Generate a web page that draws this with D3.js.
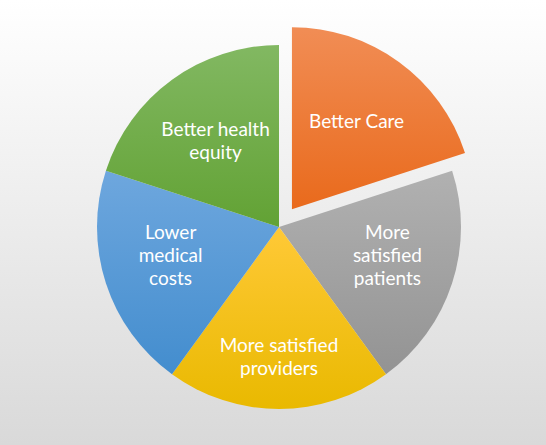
<!DOCTYPE html>
<html>
<head>
<meta charset="utf-8">
<script src="https://cdn.jsdelivr.net/npm/d3@7"></script>
<style>
  html, body { margin: 0; padding: 0; }
  body { width: 546px; height: 445px; overflow: hidden; }
</style>
</head>
<body>
<svg id="chart" width="546" height="445"></svg>
<script>
// Slices, clockwise from 12 o'clock
const categories = ['Better Care', 'More satisfied patients', 'More satisfied providers', 'Lower medical costs', 'Better health equity'];
const values = [1, 1, 1, 1, 1];
const labelLines = [
    ['Better Care'],
    ['More', 'satisfied', 'patients'],
    ['More satisfied', 'providers'],
    ['Lower', 'medical', 'costs'],
    ['Better health', 'equity']
];
const colorsTop = ['#f18d55', '#b1b1b1', '#ffc937', '#6ea7de', '#82b862'];
const colorsBottom = ['#e96a1c', '#939393', '#e9b900', '#438dce', '#62a234'];
const exploded = ['Better Care'];

const width = 546, height = 445;
const cx = 279, cy = 227, radius = 182, explodeDist = 22;

const svg = d3.select('#chart');
const defs = svg.append('defs');

// background gradient
const bg = defs.append('linearGradient')
    .attr('id', 'bg').attr('x1', 0).attr('y1', 0).attr('x2', 0).attr('y2', 1);
bg.append('stop').attr('offset', '0%').attr('stop-color', '#ffffff');
bg.append('stop').attr('offset', '100%').attr('stop-color', '#d9d9d9');
svg.append('rect').attr('width', width).attr('height', height).attr('fill', 'url(#bg)');

// one gradient per slice (top lighter, bottom darker)
categories.forEach((c, i) => {
    const g = defs.append('linearGradient')
        .attr('id', 'g' + i).attr('x1', 0).attr('y1', 0).attr('x2', 0).attr('y2', 1);
    g.append('stop').attr('offset', '0%').attr('stop-color', colorsTop[i]);
    g.append('stop').attr('offset', '100%').attr('stop-color', colorsBottom[i]);
});

const pie = d3.pie().sort(null).value(d => d)(values);
const arc = d3.arc().innerRadius(0).outerRadius(radius);

const root = svg.append('g').attr('transform', `translate(${cx},${cy})`);

function offset(d, i) {
    if (!exploded.includes(categories[i])) return [0, 0];
    const mid = (d.startAngle + d.endAngle) / 2;
    return [Math.sin(mid) * explodeDist, -Math.cos(mid) * explodeDist];
}

const slices = root.selectAll('g.slice')
    .data(pie)
    .enter()
    .append('g')
    .attr('class', 'slice')
    .attr('transform', (d, i) => `translate(${offset(d, i)})`);

slices.append('path')
    .attr('d', arc)
    .attr('fill', (d, i) => `url(#g${i})`);

// label placement along the slice bisector, with small best-fit nudges
const labelR = [110, 114, 130, 114, 108];
const labelNudgeY = [1, -7, 0, -7, 1];
const lineH = 23;

slices.each(function (d, i) {
    const mid = (d.startAngle + d.endAngle) / 2;
    const x = Math.sin(mid) * labelR[i];
    const y = -Math.cos(mid) * labelR[i] + labelNudgeY[i];
    const lines = labelLines[i];
    const t = d3.select(this).append('text')
        .attr('text-anchor', 'middle')
        .attr('fill', '#ffffff')
        .attr('font-family', 'Lato, "Open Sans", sans-serif')
        .attr('font-size', 19);
    lines.forEach((ln, k) => {
        t.append('tspan')
            .attr('x', x)
            .attr('y', y + (k - (lines.length - 1) / 2) * lineH)
            .attr('dy', '0.35em')
            .text(ln);
    });
});
</script>
</body>
</html>
